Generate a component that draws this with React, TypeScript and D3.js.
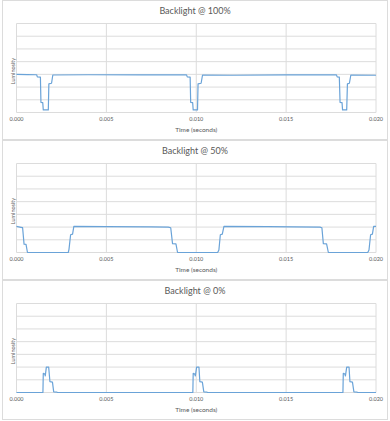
import React, { useEffect, useRef } from 'react';
import * as d3 from 'd3';

// time in seconds, luminosity in grid units (0..7)
const xTicks = [0, 0.005, 0.01, 0.015, 0.02];
const yTicks = [0, 1, 2, 3, 4, 5, 6, 7];

const titles = ['Backlight @ 100%', 'Backlight @ 50%', 'Backlight @ 0%'];

const backlight100: [number, number][] = [
  [0, 3.0], [0.0006, 2.98], [0.00112, 2.97], [0.00116, 2.8], [0.00133, 2.78],
  [0.00136, 0.8], [0.00146, 0.78], [0.00149, 0.2], [0.00177, 0.2], [0.0018, 2.25],
  [0.00195, 2.3], [0.00202, 2.95], [0.004, 2.97], [0.007, 2.96], [0.00946, 2.96],
  [0.0095, 2.8], [0.00966, 2.78], [0.00969, 0.8], [0.0098, 0.78], [0.00983, 0.2],
  [0.01007, 0.2], [0.0101, 2.25], [0.01027, 2.3], [0.01035, 2.95], [0.012, 2.93],
  [0.015, 2.96], [0.0178, 2.96], [0.01784, 2.8], [0.01796, 2.78], [0.018, 0.8],
  [0.01811, 0.78], [0.01814, 0.2], [0.01837, 0.2], [0.01841, 2.25], [0.01852, 2.3],
  [0.0186, 2.95], [0.02, 2.93],
];

const backlight50: [number, number][] = [
  [0, 2.06], [0.00025, 1.98], [0.00034, 1.95], [0.00042, 0.66], [0.00053, 0.64],
  [0.00061, 0], [0.00288, 0], [0.00292, 0.25], [0.00301, 1.4], [0.00312, 1.45],
  [0.00319, 2.05], [0.005, 2.04], [0.0075, 2.02], [0.00844, 2.0], [0.00858, 1.95],
  [0.00868, 0.7], [0.00887, 0.68], [0.00896, 0], [0.01119, 0], [0.01126, 0.2],
  [0.01134, 1.4], [0.01145, 1.45], [0.01154, 2.05], [0.014, 2.04], [0.01688, 2.0],
  [0.01699, 1.95], [0.01707, 0.7], [0.01725, 0.68], [0.01735, 0], [0.01954, 0],
  [0.01961, 0.2], [0.0197, 1.4], [0.0198, 1.45], [0.01987, 2.05], [0.02, 2.05],
];

const backlight0: [number, number][] = [
  [0, 0], [0.00147, 0], [0.00149, 1.5], [0.00158, 1.45], [0.0016, 1.3],
  [0.00166, 2.0], [0.00179, 2.0], [0.00186, 0.85], [0.002, 0.82], [0.00207, 0.05],
  [0.00225, 0.03], [0.00228, 0], [0.00981, 0], [0.00983, 1.5], [0.00992, 1.45],
  [0.00995, 1.3], [0.01002, 2.0], [0.01015, 2.0], [0.0102, 0.85], [0.01034, 0.82],
  [0.01042, 0.05], [0.0106, 0.03], [0.01063, 0], [0.01816, 0], [0.01818, 1.5],
  [0.01827, 1.45], [0.0183, 1.3], [0.01837, 2.0], [0.0185, 2.0], [0.01855, 0.85],
  [0.01869, 0.82], [0.01877, 0.05], [0.01895, 0.03], [0.01898, 0], [0.02, 0],
];

const series = [backlight100, backlight50, backlight0];

const App: React.FC = () => {
  const ref = useRef<SVGSVGElement>(null);

  useEffect(() => {
    const svg = d3.select(ref.current);
    svg.selectAll('*').remove();

    const width = 390;
    const panelH = 140;
    const margin = { top: 23.5, left: 16.5, right: 14, bottom: 27.5 };
    const font = 'Lato, "Open Sans", sans-serif';
    const grey = '#595959';
    const gridColor = '#dcdcdc';

    const x = d3.scaleLinear().domain([0, 0.02]).range([margin.left, width - margin.right]);
    const y = d3.scaleLinear().domain([0, 7]).range([panelH - margin.bottom, margin.top]);

    series.forEach((data, i) => {
      const g = svg.append('g').attr('transform', `translate(0,${i * panelH})`);

      // panel frame
      g.append('rect')
        .attr('x', 2.5)
        .attr('y', 0.5)
        .attr('width', 385)
        .attr('height', panelH - 1)
        .attr('fill', '#fff')
        .attr('stroke', gridColor);

      // horizontal grid
      g.selectAll('.hgrid')
        .data(yTicks)
        .enter()
        .append('line')
        .attr('x1', margin.left)
        .attr('x2', width - margin.right)
        .attr('y1', d => y(d))
        .attr('y2', d => y(d))
        .attr('stroke', gridColor)
        .attr('stroke-width', 1);

      // vertical grid
      g.selectAll('.vgrid')
        .data(xTicks)
        .enter()
        .append('line')
        .attr('x1', d => x(d))
        .attr('x2', d => x(d))
        .attr('y1', y(7))
        .attr('y2', y(0))
        .attr('stroke', gridColor)
        .attr('stroke-width', 1);

      // tick labels
      g.selectAll('.tick')
        .data(xTicks)
        .enter()
        .append('text')
        .attr('x', d => x(d))
        .attr('y', y(0) + 8.5)
        .attr('text-anchor', 'middle')
        .attr('font-family', font)
        .attr('font-size', '5.5px')
        .attr('fill', grey)
        .text(d => d3.format('.3f')(d));

      // axis titles
      g.append('text')
        .attr('x', (margin.left + width - margin.right) / 2)
        .attr('y', y(0) + 19)
        .attr('text-anchor', 'middle')
        .attr('font-family', font)
        .attr('font-size', '6.5px')
        .attr('fill', grey)
        .text('Time (seconds)');

      g.append('text')
        .attr('transform', `translate(14.5,${(y(0) + y(7)) / 2 + 3}) rotate(-90)`)
        .attr('text-anchor', 'middle')
        .attr('font-family', font)
        .attr('font-size', '5.5px')
        .attr('fill', grey)
        .text('Luminosity');

      // title
      g.append('text')
        .attr('x', 195)
        .attr('y', 14)
        .attr('text-anchor', 'middle')
        .attr('font-family', font)
        .attr('font-size', '9px')
        .attr('fill', grey)
        .text(titles[i]);

      const line = d3.line<[number, number]>()
        .x(d => x(d[0]))
        .y(d => y(d[1]));

      g.append('path')
        .datum(data)
        .attr('fill', 'none')
        .attr('stroke', '#6aa3d8')
        .attr('stroke-width', 1.2)
        .attr('stroke-linejoin', 'round')
        .attr('d', line);
    });
  }, []);

  return (
    <svg
      ref={ref}
      width={390}
      height={421}
      style={{ position: 'absolute', left: 0, top: 0, background: '#fff' }}
    />
  );
};

export default App;
